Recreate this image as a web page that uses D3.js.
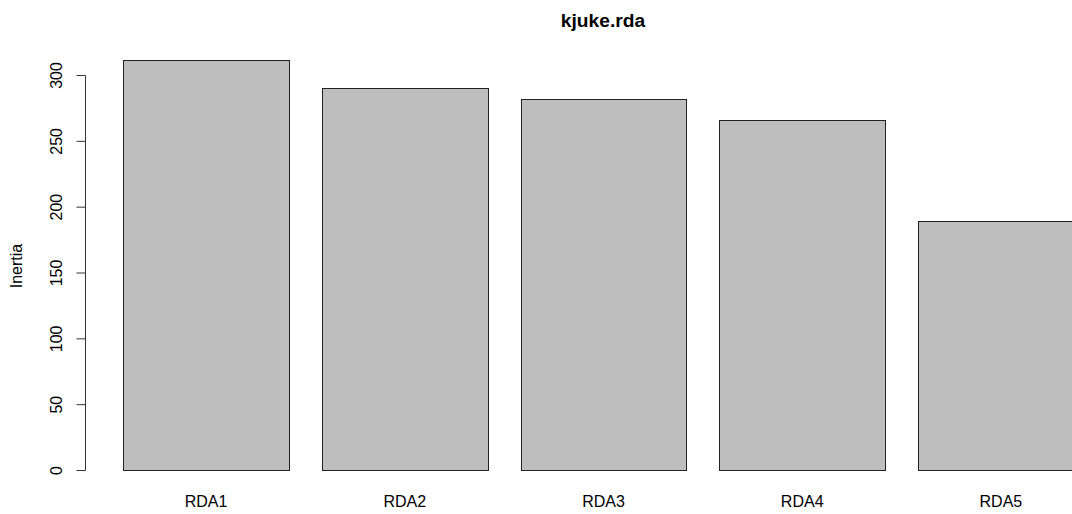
<!DOCTYPE html>
<html><head><meta charset="utf-8">
<script src="https://cdn.jsdelivr.net/npm/d3@7"></script>
<style>body{margin:0;background:#fff}svg{display:block}text{font-family:"Liberation Sans",Arial,sans-serif}</style>
</head><body>
<script>
const categories = ["RDA1","RDA2","RDA3","RDA4","RDA5"];
const values = [311.4, 290.4, 281.4, 265.8, 189.3];
const yTicks = [0, 50, 100, 150, 200, 250, 300];
const title = "kjuke.rda";
const yLabel = "Inertia";

const W = 1072, H = 514;
const svg = d3.select("body").append("svg").attr("width", W).attr("height", H);

const step = 198.7;
const x0 = 123.3 - step/6;
const x = d3.scaleBand().domain(categories)
  .range([x0, x0 + step*(5 - 1/6 + 1/3)])
  .paddingInner(1/6).paddingOuter(1/6);
const y = d3.scaleLinear().domain([0, 300]).range([470, 75]);

svg.append("g").selectAll("rect").data(categories).join("rect")
  .attr("x", d => Math.round(x(d)) + 0.5)
  .attr("y", (d,i) => Math.round(y(values[i])) + 0.5)
  .attr("width", d => Math.round(x(d) + x.bandwidth()) - Math.round(x(d)))
  .attr("height", (d,i) => Math.round(y(0)) - Math.round(y(values[i])))
  .attr("fill", "#bebebe").attr("stroke", "#222").attr("stroke-width", 1);

const yAxis = d3.axisLeft(y).tickValues(yTicks).tickSize(9).tickPadding(13);
const gy = svg.append("g").attr("transform", "translate(85.5,0)").call(yAxis);
gy.select(".domain").attr("stroke", "#333").attr("d", `M0,${y(0)+0.5}V${y(300)+0.5}`);
gy.selectAll(".tick line").attr("stroke", "#333");
gy.selectAll(".tick text")
  .attr("font-size", 16).attr("fill", "#000")
  .attr("transform", "rotate(-90)")
  .attr("text-anchor", "middle")
  .attr("x", 0).attr("y", -23.5).attr("dy", 0);

svg.append("g").selectAll("text").data(categories).join("text")
  .attr("x", d => x(d) + x.bandwidth()/2)
  .attr("y", 507)
  .attr("text-anchor", "middle").attr("font-size", 16).attr("fill", "#000")
  .text(d => d);

svg.append("text").attr("x", 603).attr("y", 27)
  .attr("text-anchor", "middle").attr("font-size", 19.2).attr("font-weight", "bold")
  .text(title);

svg.append("text").attr("transform", "translate(22,266) rotate(-90)")
  .attr("text-anchor", "middle").attr("font-size", 16).text(yLabel);
</script>
</body></html>
